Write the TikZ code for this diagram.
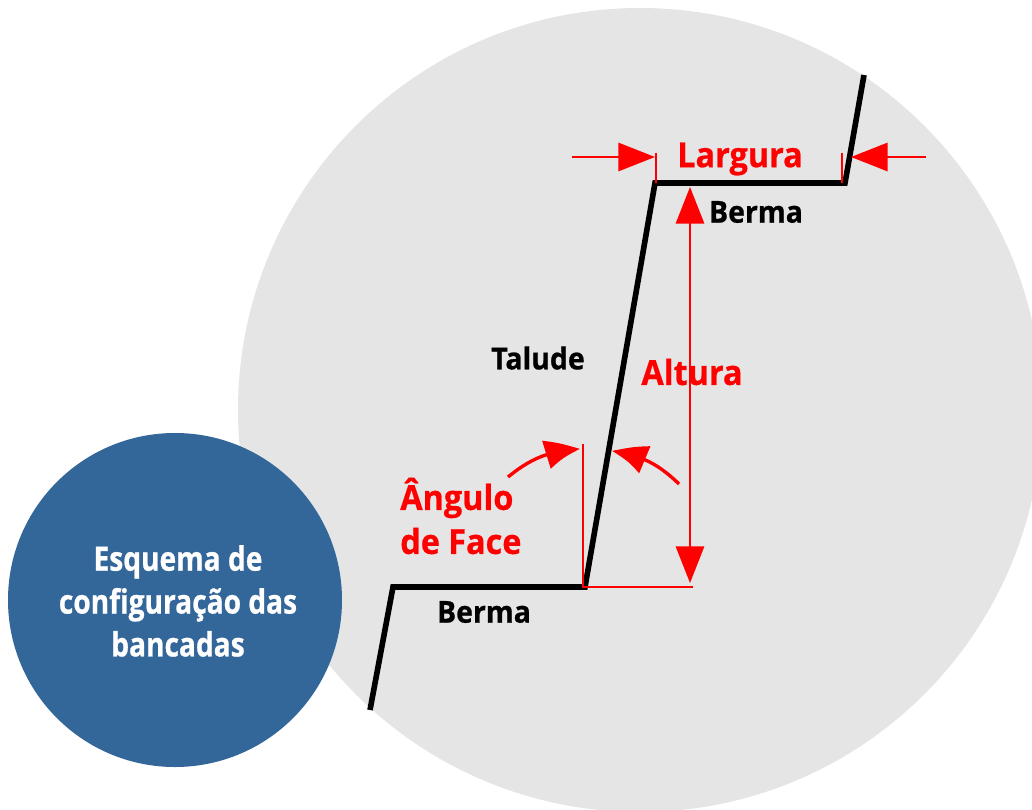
\documentclass[tikz,border=0pt]{standalone}
\usepackage{fontspec}
\setmainfont[FakeStretch=0.94, BoldFeatures={FakeBold=0.7}]{Open Sans}
\newfontfamily\narrowfont[FakeStretch=0.84, BoldFeatures={FakeBold=0.7}]{Open Sans}
\usetikzlibrary{arrows.meta, bending, positioning}
\definecolor{discgray}{HTML}{E5E5E5}
\definecolor{discblue}{HTML}{336699}
\tikzset{
  bench/.style={line width=4pt, black, line join=miter},
  dimline/.style={line width=1.8pt, red},
  dimarrow/.style={dimline, -{Triangle[length=26pt, width=20pt]}},
  anglearrow/.style={line width=2.4pt, red, -{Triangle[length=26pt, width=20pt, bend]}},
  blacklabel/.style={font=\bfseries\fontsize{21.5}{24}\selectfont, text=black, inner sep=0pt},
  redlabel/.style={font=\bfseries\fontsize{24.5}{31}\selectfont, text=red, inner sep=0pt},
  titlelabel/.style={font=\narrowfont\bfseries\fontsize{23.8}{30.5}\selectfont, text=white, align=center, inner sep=0pt}
}
\begin{document}
\begin{tikzpicture}[x=0.025cm, y=-0.025cm]
\useasboundingbox (0,0) rectangle (1032,809);

% discs
\fill[discgray] (640,410) circle (402);

% bench profile
\coordinate (crestTop) at (864,75);
\coordinate (crestRight) at (845,183);
\coordinate (crestLeft) at (655,183);
\coordinate (toeRight) at (585,587);
\coordinate (toeLeft) at (393,587);
\coordinate (toeBottom) at (370,710);
\draw[bench] (crestTop) -- (crestRight) -- (crestLeft) -- (toeRight) -- (toeLeft) -- (toeBottom);

% width
\coordinate (widthTickA) at (656,153);
\coordinate (widthTickAb) at (656,183);
\coordinate (widthTickB) at (842,153);
\coordinate (widthTickBb) at (842,183);
\coordinate (widthInA) at (572,157);
\coordinate (widthEndA) at (655,157);
\coordinate (widthInB) at (926,157);
\coordinate (widthEndB) at (851,157);
\draw[dimline] (widthTickA) -- (widthTickAb);
\draw[dimline] (widthTickB) -- (widthTickBb);
\draw[dimarrow] (widthInA) -- (widthEndA);
\draw[dimarrow] (widthInB) -- (widthEndB);

% height
\coordinate (heightTop) at (690,187);
\coordinate (heightBottom) at (690,583);
\coordinate (heightMid) at (690,385);
\coordinate (baseEnd) at (693,587);
\coordinate (baseStart) at (583,587);
\coordinate (tickTop) at (583,444);
\draw[dimarrow] (heightMid) -- (heightTop);
\draw[dimarrow] (heightMid) -- (heightBottom);
\draw[dimline] (tickTop) -- (baseStart) -- (baseEnd);

% face angle
\coordinate (angleFromA) at (508,477);
\coordinate (angleToA) at (580,449);
\coordinate (angleFromB) at (679,484);
\coordinate (angleToB) at (612,451);
\draw[anglearrow] (angleFromA) to[bend left=18] (angleToA);
\draw[anglearrow] (angleFromB) to[bend right=18] (angleToB);

% labels
\node[redlabel] (largura) at (740,159) {Largura};
\node[blacklabel] (bermaTop) at (756,212) {Berma};
\node[blacklabel] (talude) at (538,358) {Talude};
\node[redlabel] (altura) at (692,372) {Altura};
\node[redlabel, anchor=west] (angulo) at (400,498) {Ângulo};
\node[redlabel, anchor=west] (face) at (400,541) {de Face};
\node[blacklabel] (bermaLow) at (484,612) {Berma};

\node[circle, fill=discblue, minimum size=334*0.025cm, inner sep=0pt] (title) at (175,600) {};
\node[titlelabel] (titleText) at (178,601) {Esquema de\\configuração das\\bancadas};
\end{tikzpicture}
\end{document}
